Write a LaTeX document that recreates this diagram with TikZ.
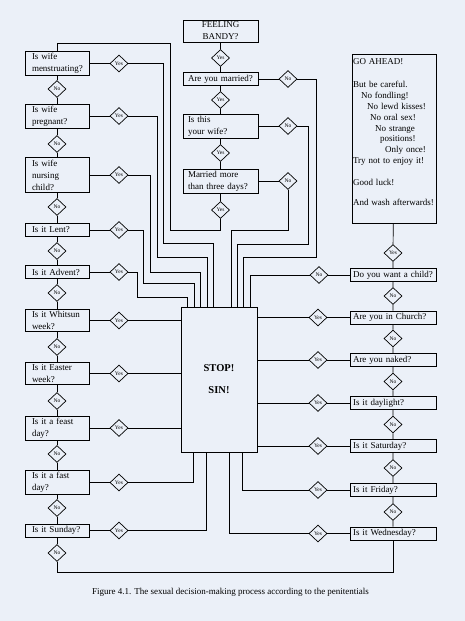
\documentclass[tikz,border=0pt]{standalone}
\usepackage{fontspec}
\setmainfont{Liberation Serif}
\usepackage{tikz}
\usetikzlibrary{calc,shapes.geometric}
\definecolor{paper}{RGB}{235,240,248}
\tikzset{
        qbox/.style={draw, rectangle, align=left, inner ysep=2pt, minimum height=13pt,
            font=\fontsize{9}{12}\selectfont},
        lbox/.style={qbox, text width=50pt, inner xsep=7pt},
        tbox/.style={qbox, text width=65pt, inner xsep=5pt},
        rbox/.style={qbox, text width=80pt, inner xsep=3pt},
        dia/.style={draw, diamond, aspect=1, inner sep=0pt, minimum width=18pt,
            minimum height=17pt, fill=paper, font=\fontsize{5.5}{6}\selectfont},
}
\begin{document}
\begin{tikzpicture}[x=1pt, y=-1pt, line width=0.7pt]
        \fill[paper] (0,0) rectangle (465,621);
        \useasboundingbox (0,0) rectangle (465,621);
        \node[tbox, align=center] (bandy) at (220.5,31) {FEELING\\BANDY?};
        \node[tbox] (mar) at (220.5,79) {Are you married?};
        \node[tbox] (wife) at (220.5,126) {Is this\\your wife?};
        \node[tbox] (days) at (220.5,181) {Married more\\than three days?};
        \node[dia] (y1) at (220.5,58) {Yes};
        \node[dia] (y2) at (220.5,100) {Yes};
        \node[dia] (y3) at (220.5,153) {Yes};
        \node[dia] (y4) at (220.5,210) {Yes};
        \node[dia] (nt1) at (288,79) {No};
        \node[dia] (nt2) at (288,126) {No};
        \node[dia] (nt3) at (288,181) {No};
        \node[lbox] (q1) at (57,63.5) {Is wife\\menstruating?};
        \node[lbox] (q2) at (57,116) {Is wife\\pregnant?};
        \node[lbox] (q3) at (57,175) {Is wife\\nursing\\child?};
        \node[lbox] (q4) at (57,230) {Is it Lent?};
        \node[lbox] (q5) at (57,272) {Is it Advent?};
        \node[lbox] (q6) at (57,320.5) {Is it Whitsun\\week?};
        \node[lbox] (q7) at (57,373.5) {Is it Easter\\week?};
        \node[lbox] (q8) at (57,428) {Is it a feast\\day?};
        \node[lbox] (q9) at (57,482.5) {Is it a fast\\day?};
        \node[lbox] (q10) at (57,530.5) {Is it Sunday?};
        \foreach \i/\y in {1/89,2/144,3/207,4/251,5/293,6/347,7/401,8/454,9/508,10/553}
            \node[dia] (n\i) at (57,\y) {No};
        \foreach \i/\y in {1/63.5,2/116,3/175,4/230,5/272,6/320.5,7/373.5,8/428,9/482.5,10/530.5}
            \node[dia] (yq\i) at (119,\y) {Yes};
        \node[qbox, text width=82pt, inner xsep=1pt, minimum height=169pt,
            font=\fontsize{9}{10.8}\selectfont] (go) at (394,138.5)
            {GO AHEAD!\\[13pt]
            But be careful.\\
            \hspace*{8pt}No fondling!\\
            \hspace*{14pt}No lewd kisses!\\
            \hspace*{17pt}No oral sex!\\
            \hspace*{22pt}No strange\\
            \hspace*{27pt}positions!\\
            \hspace*{32pt}Only once!\\
            Try not to enjoy it!\\[11pt]
            Good luck!\\[9pt]
            And wash afterwards!\\[3pt]\mbox{}};
        \node[dia] (yr) at (393,253) {Yes};
        \node[rbox] (r1) at (393,275) {Do you want a child?};
        \node[rbox] (r2) at (393,317.5) {Are you in Church?};
        \node[rbox] (r3) at (393,360) {Are you naked?};
        \node[rbox] (r4) at (393,403) {Is it daylight?};
        \node[rbox] (r5) at (393,446) {Is it Saturday?};
        \node[rbox] (r6) at (393,490) {Is it Friday?};
        \node[rbox] (r7) at (393,533.5) {Is it Wednesday?};
        \foreach \i/\y in {1/296,2/338.5,3/381.5,4/424.5,5/468,6/512}
            \node[dia] (nr\i) at (393,\y) {No};
        \node[dia] (dr1) at (319,275) {No};
        \foreach \i/\y in {2/317.5,3/360,4/403,5/446,6/490,7/533.5}
            \node[dia] (dr\i) at (318,\y) {Yes};
        \node[draw, rectangle, minimum width=76pt, minimum height=145pt,
            font=\fontsize{10.5}{13}\selectfont\bfseries, align=center] (stop) at (219,379.5)
            {STOP!\\[9pt]SIN!};
        \node[font=\fontsize{9}{11}\selectfont] (cap) at (230.5,592)
            {Figure 4.1. The sexual decision-making process according to the penitentials};
        \draw (bandy) -- (y1) -- (mar) -- (y2) -- (wife) -- (y3) -- (days) -- (y4);
        \draw (mar) -- (nt1);
        \draw (wife) -- (nt2);
        \draw (days) -- (nt3);
        \draw (q1) -- (n1) -- (q2) -- (n2) -- (q3) -- (n3) -- (q4) -- (n4) -- (q5) -- (n5)
            -- (q6) -- (n6) -- (q7) -- (n7) -- (q8) -- (n8) -- (q9) -- (n9) -- (q10) -- (n10);
        \foreach \i in {1,...,10}
            \draw (q\i) -- (yq\i);
        \draw (go) -- (yr) -- (r1) -- (nr1) -- (r2) -- (nr2) -- (r3) -- (nr3) -- (r4)
            -- (nr4) -- (r5) -- (nr5) -- (r6) -- (nr6) -- (r7);
        \foreach \i in {1,...,7}
            \draw (r\i) -- (dr\i);
        \draw (y4) |- (170,230) |- (q1.north |- 0,43) -- (q1);
        \draw (n10) |- (r7.south |- 0,572) -- (r7);
        \draw (nt1) -| (316,257) -| (stop.north -| 243,0);
        \draw (nt2) -| (308,244) -| (stop.north -| 237,0);
        \draw (nt3) |- (231,230) -- (stop.north -| 231,0);
        \draw (dr1) -| (stop.north -| 250,0);
        \draw (yq1) -| (163,243) -| (stop.north -| 213,0);
        \draw (yq2) -| (157,257) -| (stop.north -| 207,0);
        \draw (yq3) -| (150,272) -| (stop.north -| 200,0);
        \draw (yq4) -| (143,283) -| (stop.north -| 194,0);
        \draw (yq5) -| (137,297) -| (stop.north -| 187,0);
        \foreach \i in {6,7,8}
            \draw (yq\i) -- (stop.west |- yq\i);
        \draw (yq9) -| (stop.south -| 193,0);
        \draw (yq10) -| (stop.south -| 206,0);
        \foreach \i in {2,...,5}
            \draw (dr\i) -- (stop.east |- dr\i);
        \draw (dr6) -| (stop.south -| 242,0);
        \draw (dr7) -| (stop.south -| 229,0);
\end{tikzpicture}
\end{document}
